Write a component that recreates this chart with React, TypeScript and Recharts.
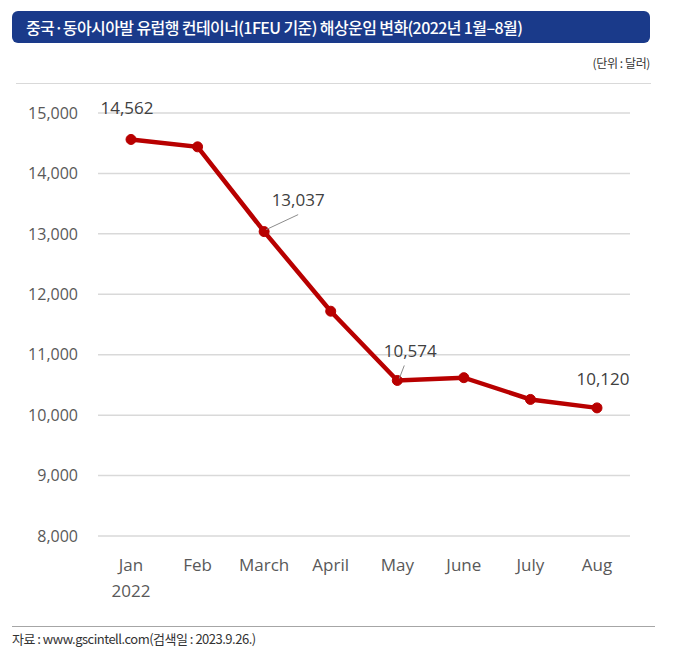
import { LineChart, Line, XAxis, YAxis, CartesianGrid, LabelList } from 'recharts';

const months = ['Jan', 'Feb', 'March', 'April', 'May', 'June', 'July', 'Aug'];
const freightUsd = [14562, 14440, 13037, 11720, 10574, 10620, 10260, 10120];
const labelledIdx = [0, 2, 4, 7];
const yTicks = [8000, 9000, 10000, 11000, 12000, 13000, 14000, 15000];

const LINE_COLOR = '#b80000';
const TEXT_GRAY = '#595959';
const FONT = "'Open Sans', 'Noto Sans', sans-serif";
const KR_FONT = "'Noto Sans CJK KR', 'Noto Sans', sans-serif";

const data = months.map((m, i) => ({ month: m, value: freightUsd[i] }));

// label placement relative to the point: dx, dy of text centre, with optional leader line
const LABEL_POS: Record<number, { dx: number; dy: number; leader?: boolean }> = {
  0: { dx: -4, dy: -32 },
  2: { dx: 34, dy: -32, leader: true },
  4: { dx: 13, dy: -30, leader: true },
  7: { dx: 6, dy: -29 },
};

function ValueLabel(props: any) {
  const { x, y, value, index } = props;
  if (!labelledIdx.includes(index)) return null;
  const p = LABEL_POS[index];
  const tx = x + p.dx;
  const ty = y + p.dy;
  return (
    <g>
      {p.leader && (
        <line x1={x + 2} y1={y - 2} x2={tx - (index === 2 ? 0 : 6)} y2={ty + 15} stroke="#8c8c8c" strokeWidth={1} />
      )}
      <text x={tx} y={ty} textAnchor="middle" dominantBaseline="central" fill="#404040" fontSize={17} fontFamily={FONT}>
        {Number(value).toLocaleString('en-US')}
      </text>
    </g>
  );
}

function MonthTick(props: any) {
  const { x, y, payload, index } = props;
  return (
    <g>
      <text x={x} y={y + 27} textAnchor="middle" fill={TEXT_GRAY} fontSize={17} fontFamily={FONT}>
        {payload.value}
      </text>
      {index === 0 && (
        <text x={x} y={y + 53} textAnchor="middle" fill={TEXT_GRAY} fontSize={17} fontFamily={FONT}>
          2022
        </text>
      )}
    </g>
  );
}

export default function App() {
  return (
    <div style={{ position: 'absolute', left: 0, top: 0, width: 683, height: 654, background: '#fff' }}>
      <div
        style={{
          position: 'absolute',
          left: 12,
          top: 11,
          width: 638,
          height: 32,
          background: '#1a3a8a',
          borderRadius: 6,
          color: '#fff',
          fontFamily: KR_FONT,
          fontSize: 16,
          fontWeight: 500,
          letterSpacing: -0.6,
          lineHeight: '32px',
          paddingLeft: 14,
          boxSizing: 'border-box',
          whiteSpace: 'nowrap',
        }}
      >
        중국·동아시아발 유럽행 컨테이너(1FEU 기준) 해상운임 변화(2022년 1월–8월)
      </div>
      <div
        style={{
          position: 'absolute',
          right: 33,
          top: 54,
          fontFamily: KR_FONT,
          fontSize: 12,
          color: '#333',
          letterSpacing: -0.4,
        }}
      >
        (단위 : 달러)
      </div>
      <div style={{ position: 'absolute', left: 16, top: 83, width: 635, height: 1, background: '#d9d9d9' }} />
      <div style={{ position: 'absolute', left: 0, top: 0 }}>
        <LineChart width={683} height={654} data={data} margin={{ top: 113, right: 53, bottom: 78, left: 0 }}>
          <CartesianGrid vertical={false} stroke="#d9d9d9" strokeWidth={1.5} />
          <XAxis
            dataKey="month"
            axisLine={false}
            tickLine={false}
            height={40}
            interval={0}
            padding={{ left: 33, right: 33 }}
            tick={<MonthTick />}
          />
          <YAxis
            domain={[8000, 15000]}
            ticks={yTicks}
            width={98}
            axisLine={false}
            tickLine={false}
            tickMargin={14}
            tick={{ fill: TEXT_GRAY, fontSize: 16, fontFamily: FONT }}
            tickFormatter={(v: number) => v.toLocaleString('en-US')}
          />
          <Line
            dataKey="value"
            stroke={LINE_COLOR}
            strokeWidth={4.5}
            dot={{ r: 5, fill: LINE_COLOR, stroke: LINE_COLOR, strokeWidth: 1 }}
            activeDot={false}
            isAnimationActive={false}
          >
            <LabelList dataKey="value" content={<ValueLabel />} />
          </Line>
        </LineChart>
      </div>
      <div style={{ position: 'absolute', left: 12, top: 626, width: 643, height: 1, background: '#a6a6a6' }} />
      <div
        style={{
          position: 'absolute',
          left: 12,
          top: 629,
          fontFamily: KR_FONT,
          fontSize: 13,
          color: '#333',
          letterSpacing: -0.5,
        }}
      >
        자료 : www.gscintell.com(검색일 : 2023.9.26.)
      </div>
    </div>
  );
}
